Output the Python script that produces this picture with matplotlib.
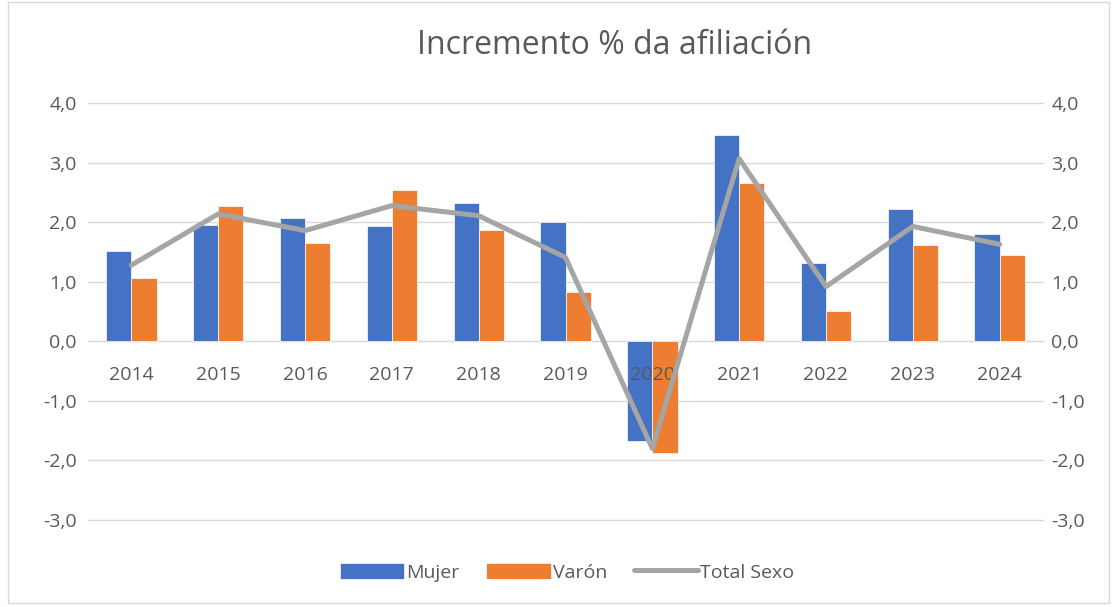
import matplotlib.pyplot as plt
from matplotlib.patches import Rectangle
from matplotlib.ticker import FuncFormatter
import numpy as np

years = ['2014', '2015', '2016', '2017', '2018', '2019', '2020', '2021', '2022', '2023', '2024']
mujer = [1.52, 1.96, 2.08, 1.94, 2.33, 2.01, -1.68, 3.46, 1.32, 2.23, 1.80]
varon = [1.07, 2.27, 1.65, 2.55, 1.87, 0.83, -1.87, 2.66, 0.51, 1.62, 1.45]
total = [1.28, 2.14, 1.86, 2.28, 2.11, 1.41, -1.80, 3.07, 0.92, 1.93, 1.63]

plt.rcParams['font.family'] = ['Open Sans', 'DejaVu Sans']
txt = '#595959'

fig = plt.figure(figsize=(11.12, 6.07), dpi=100)
ax = fig.add_axes([0.0791, 0.1433, 0.8589, 0.6867])
x = np.arange(len(years))
w = 0.29

ax.bar(x - w / 2, mujer, w, color='#4472C4', edgecolor='white', linewidth=0.5, label='Mujer', zorder=2)
ax.bar(x + w / 2, varon, w, color='#ED7D31', edgecolor='white', linewidth=0.5, label='Varón', zorder=2)

ax.set_xlim(-0.5, len(years) - 0.5)
ax.set_ylim(-3, 4)
ax.set_yticks(np.arange(-3, 5, 1))
fmt = FuncFormatter(lambda v, p: f'{v:.1f}'.replace('.', ','))
ax.yaxis.set_major_formatter(fmt)
ax.grid(axis='y', color='#D9D9D9', linewidth=1)
for gl in ax.get_ygridlines():
    gl.set_clip_on(False)
ax.set_axisbelow(True)
ax.xaxis.set_zorder(5)  # year labels drawn over the 2020 bars
for s in ['top', 'left', 'right']:
    ax.spines[s].set_visible(False)
ax.spines['bottom'].set_position(('data', 0))
ax.spines['bottom'].set_color('#D9D9D9')
ax.spines['bottom'].set_zorder(1)
ax.set_xticks(x)
ax.set_xticklabels(years)
ax.tick_params(axis='x', length=0, pad=18, labelsize=14, labelcolor=txt)
ax.tick_params(axis='y', length=0, pad=8, labelsize=14, labelcolor=txt)

ax2 = ax.twinx()
ax2.plot(x, total, color='#A5A5A5', linewidth=3.6, solid_capstyle='round', label='Total Sexo', zorder=3)
ax2.set_ylim(-3, 4)
ax2.set_yticks(np.arange(-3, 5, 1))
ax2.yaxis.set_major_formatter(fmt)
ax2.tick_params(axis='y', length=0, pad=6, labelsize=14, labelcolor=txt)
for s in ax2.spines.values():
    s.set_visible(False)

fig.text(0.553, 0.925, 'Incremento % da afiliación', ha='center', va='center', fontsize=23, color=txt)

h1, l1 = ax.get_legend_handles_labels()
h2, l2 = ax2.get_legend_handles_labels()
fig.legend(h1 + h2, l1 + l2, loc='center', bbox_to_anchor=(0.51, 0.057), ncol=3, frameon=False,
           fontsize=14, labelcolor=txt, handlelength=3.3, handleheight=0.9, handletextpad=0.1,
           columnspacing=1.4)

fig.patches.append(Rectangle((0.007, 0.006), 0.99, 0.99, transform=fig.transFigure, fill=False,
                             edgecolor='#D9D9D9', linewidth=1))

fig.savefig('out.png', dpi=100)
